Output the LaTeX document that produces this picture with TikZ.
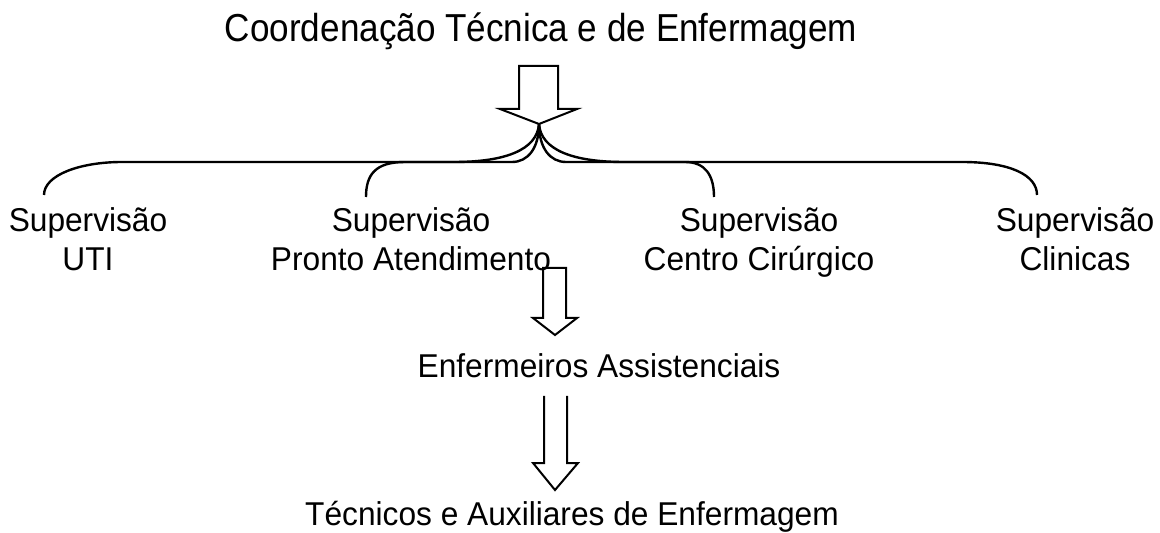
\documentclass[tikz,border=0pt]{standalone}
\usepackage{fontspec}
\setmainfont{Liberation Sans}[FakeStretch=0.9]
\newfontfamily\subfont{Liberation Sans}[FakeStretch=0.96]
\usetikzlibrary{arrows.meta}
\tikzset{
  big/.style={font=\fontsize{19.5}{23}\selectfont,inner sep=0pt,anchor=base},
  sub/.style={font=\subfont\fontsize{16.5}{19.5}\selectfont,inner sep=0pt,anchor=base,align=center},
  blk/.style={line width=1pt,line join=miter},
  brace/.style={line width=1.2pt}
}
\begin{document}
\begin{tikzpicture}[x=0.5pt,y=-0.5pt]
\useasboundingbox(0,0)rectangle(1160,533);
\node[big](coord)at(541,42){Coordenação Técnica e de Enfermagem};
\node[sub](uti)at(88,271){Supervisão\\UTI};
\node[sub](pronto)at(411,271){Supervisão\\Pronto Atendimento};
\node[sub](centro)at(759,271){Supervisão\\Centro Cirúrgico};
\node[sub](clin)at(1075,271){Supervisão\\Clinicas};
\node[sub](enf)at(599,378){Enfermeiros Assistenciais};
\node[sub](tec)at(572,525){Técnicos e Auxiliares de Enfermagem};
\coordinate(tip)at(539,124);
\coordinate(e1)at(44,195);
\coordinate(e2)at(366,197);
\coordinate(e3)at(714,197);
\coordinate(e4)at(1037,195);
\draw[blk](519,66)--(519,109)--(500,109)--(tip)--(577,109)--(558,109)--(558,66)--cycle;
\draw[brace](e1)..controls(44,175)and(80,162)..(122,162)--(454,162)..controls(505,162)and(537,150)..(tip);
\draw[brace](e2)..controls(366,175)and(375,162)..(405,162)--(512,162)..controls(528,162)and(539,148)..(tip);
\draw[brace](tip)..controls(539,148)and(550,162)..(566,162)--(685,162)..controls(705,162)and(714,175)..(e3);
\draw[brace](tip)..controls(541,150)and(573,162)..(624,162)--(962,162)..controls(1010,162)and(1037,175)..(e4);
\draw[blk](543,268)--(543,318)--(533,318)--(555,335)--(577,318)--(566,318)--(566,268)--cycle;
\draw[blk](544,396)--(544,463)--(533,463)--(555,490)--(578,463)--(567,463)--(567,396);
\end{tikzpicture}
\end{document}
